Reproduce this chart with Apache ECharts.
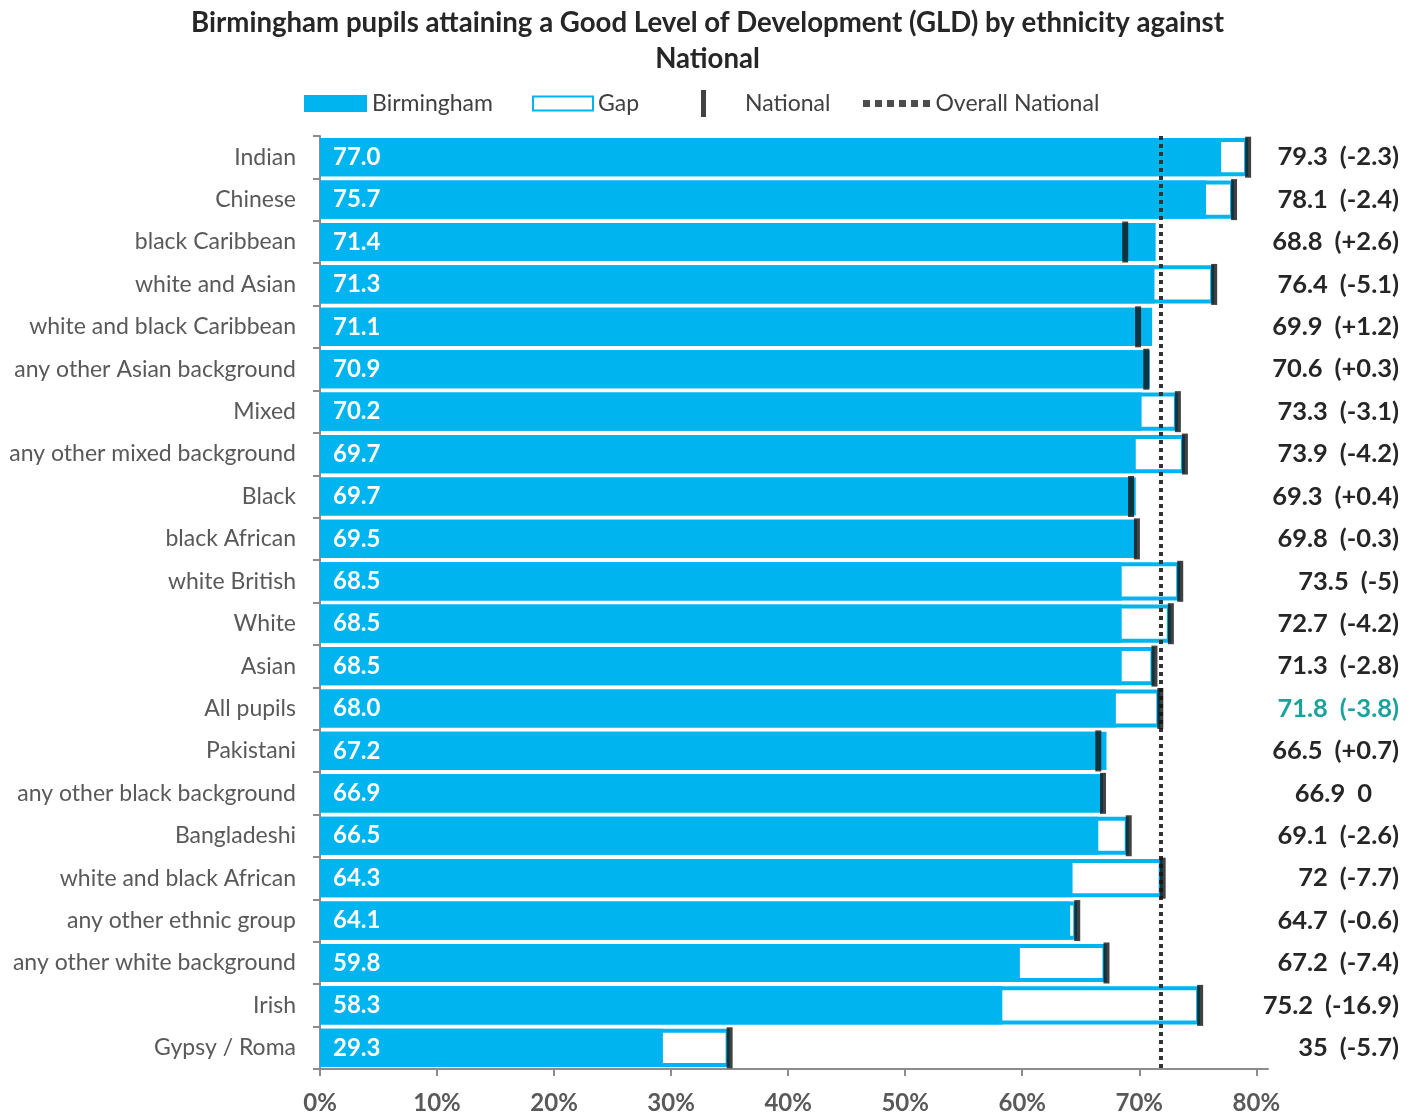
<!DOCTYPE html>
<html>
<head>
<meta charset="utf-8">
<script src="https://cdn.jsdelivr.net/npm/echarts@6/dist/echarts.min.js"></script>
<style>
  html, body { margin: 0; padding: 0; background: #fff; }
  #chart { width: 1415px; height: 1117px; }
</style>
</head>
<body>
<div id="chart"></div>
<script>
// Ethnic groups, top to bottom
const categories = [
  'Indian', 'Chinese', 'black Caribbean', 'white and Asian', 'white and black Caribbean',
  'any other Asian background', 'Mixed', 'any other mixed background', 'Black', 'black African',
  'white British', 'White', 'Asian', 'All pupils', 'Pakistani', 'any other black background',
  'Bangladeshi', 'white and black African', 'any other ethnic group', 'any other white background',
  'Irish', 'Gypsy / Roma'
];
// % of Birmingham pupils attaining GLD
const birmingham = [77.0, 75.7, 71.4, 71.3, 71.1, 70.9, 70.2, 69.7, 69.7, 69.5, 68.5, 68.5, 68.5, 68.0, 67.2, 66.9, 66.5, 64.3, 64.1, 59.8, 58.3, 29.3];
// National % for the same group
const national = [79.3, 78.1, 68.8, 76.4, 69.9, 70.6, 73.3, 73.9, 69.3, 69.8, 73.5, 72.7, 71.3, 71.8, 66.5, 66.9, 69.1, 72, 64.7, 67.2, 75.2, 35];
// Overall national figure (all pupils)
const overallNational = 71.8;
// x-axis tick values (%)
const xTicks = [0, 10, 20, 30, 40, 50, 60, 70, 80];

const BLUE = '#00B4EF';
const FONT = 'Lato, "Open Sans", sans-serif';
const allIdx = categories.indexOf('All pupils');

function gapText(i) {
  const d = Math.round((birmingham[i] - national[i]) * 10) / 10;
  if (d === 0) return '0';
  return '(' + (d > 0 ? '+' : '') + d + ')';
}

const chart = echarts.init(document.getElementById('chart'), null, { renderer: 'canvas' });

const legendText = { fontFamily: FONT, fontSize: 23, color: '#404040' };
const legendBase = { orient: 'horizontal', selectedMode: false, textStyle: legendText };
const rightFont = { fontFamily: FONT, fontSize: 25.5, fontWeight: 'bold' };

chart.setOption({
  animation: false,
  backgroundColor: '#fff',
  title: {
    text: 'Birmingham pupils attaining a Good Level of Development (GLD) by ethnicity against\nNational',
    left: 'center',
    top: 0,
    textStyle: { fontFamily: FONT, fontSize: 27.6, fontWeight: 'bold', color: '#262626', lineHeight: 36 }
  },
  legend: [
    Object.assign({}, legendBase, {
      left: 299, top: 87, itemWidth: 63, itemHeight: 17,
      data: [{ name: 'Birmingham', icon: 'rect' }]
    }),
    Object.assign({}, legendBase, {
      left: 527, top: 87, itemWidth: 60, itemHeight: 14,
      data: [{ name: 'Gap', icon: 'rect' }]
    }),
    Object.assign({}, legendBase, {
      left: 696, top: 85, itemWidth: 5, itemHeight: 27,
      data: [{ name: 'National', icon: 'rect' }],
      textStyle: Object.assign({}, legendText, { padding: [0, 0, 0, 34] })
    }),
    Object.assign({}, legendBase, {
      left: 858, top: 87, itemWidth: 68, itemHeight: 7,
      data: [{
        name: 'Overall National',
        icon: 'path://M0,0h7v7h-7zM12,0h7v7h-7zM24,0h7v7h-7zM36,0h7v7h-7zM48,0h7v7h-7zM60,0h7v7h-7z'
      }]
    })
  ],
  grid: { left: 320, right: 147, top: 136, bottom: 48, containLabel: false },
  xAxis: {
    type: 'value',
    min: 0,
    max: 81,
    interval: 10,
    axisLine: { show: true, lineStyle: { color: '#8c8c8c', width: 2 } },
    axisTick: { show: true, length: 7, customValues: xTicks, lineStyle: { color: '#8c8c8c', width: 2 } },
    axisLabel: {
      customValues: xTicks,
      formatter: v => v + '%',
      fontFamily: FONT, fontSize: 24, fontWeight: 'bold', color: '#595959', margin: 22
    },
    splitLine: { show: false }
  },
  yAxis: [
    {
      type: 'category',
      data: categories,
      inverse: true,
      axisLine: { show: true, lineStyle: { color: '#8c8c8c', width: 2 } },
      axisTick: { show: true, length: 7, lineStyle: { color: '#8c8c8c', width: 2 } },
      axisLabel: { fontFamily: FONT, fontSize: 23, color: '#595959', margin: 24 }
    },
    {
      type: 'category',
      data: categories,
      inverse: true,
      position: 'right',
      axisLine: { show: false },
      axisTick: { show: false },
      axisLabel: {
        align: 'right',
        margin: 131,
        formatter: (v, i) => {
          const g = gapText(i);
          const teal = i === allIdx;
          const gs = g === '0' ? 'z' : (teal ? 't' : 'd');
          return '{' + (teal ? 'tn' : 'dn') + '|' + national[i] + '}{' + gs + '|' + g + '}';
        },
        rich: {
          dn: Object.assign({ color: '#262626', padding: [0, 12, 0, 0] }, rightFont),
          tn: Object.assign({ color: '#1AA39A', padding: [0, 12, 0, 0] }, rightFont),
          d: Object.assign({ color: '#262626' }, rightFont),
          t: Object.assign({ color: '#1AA39A' }, rightFont),
          z: Object.assign({ color: '#262626', padding: [0, 27, 0, 0] }, rightFont)
        }
      }
    }
  ],
  series: [
    {
      name: 'Gap',
      type: 'bar',
      data: national,
      barCategoryGap: '10%',
      barGap: '-100%',
      itemStyle: { color: '#ffffff', borderColor: BLUE, borderWidth: 4 },
      z: 2
    },
    {
      name: 'Birmingham',
      type: 'bar',
      data: birmingham,
      barCategoryGap: '10%',
      barGap: '-100%',
      itemStyle: { color: BLUE },
      label: {
        show: true,
        position: 'insideLeft',
        distance: 13,
        formatter: p => p.value.toFixed(1),
        fontFamily: FONT, fontSize: 24, fontWeight: 'bold', color: '#ffffff'
      },
      z: 2
    },
    {
      name: 'Overall National',
      type: 'line',
      data: [],
      itemStyle: { color: '#4d4d4d' },
      lineStyle: { color: '#4d4d4d' },
      markLine: {
        silent: true,
        symbol: ['none', 'none'],
        label: { show: false },
        lineStyle: { color: '#333333', width: 4, type: [4, 4] },
        data: [{ xAxis: overallNational }]
      },
      z: 3
    },
    {
      name: 'National',
      type: 'scatter',
      data: national.map((v, i) => [v, i]),
      symbol: 'rect',
      symbolSize: [6, 41],
      itemStyle: { color: '#111111' },
      z: 5
    }
  ]
});
</script>
</body>
</html>
